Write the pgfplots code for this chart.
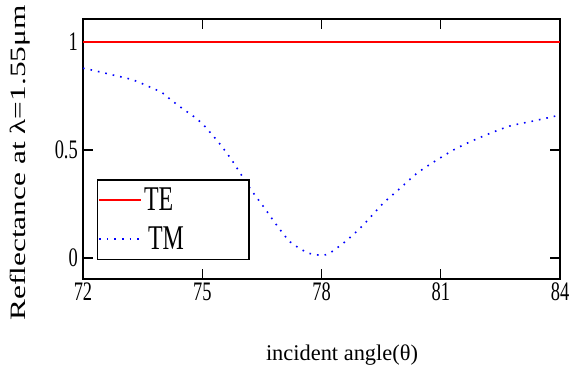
\documentclass[border=0pt]{standalone}
\usepackage{fontspec}
\setmainfont{Liberation Serif}
\usepackage{graphicx}
\usepackage{pgfplots}
\pgfplotsset{compat=1.18}
\newcommand{\vs}[1]{\scalebox{1}[1.45]{#1}}
\begin{document}
\begin{tikzpicture}
\useasboundingbox (-83bp,-88bp) rectangle (493bp,279bp);
\begin{axis}[
  at={(0,0)}, anchor=south west,
  width=477bp, height=260bp, scale only axis,
  xmin=72, xmax=84, ymin=-0.097, ymax=1.106,
  xtick={72,75,78,81,84}, ytick={0,0.5,1},
  xticklabels={\vs{72},\vs{75},\vs{78},\vs{81},\vs{84}},
  yticklabels={\vs{0},\vs{0.5},\vs{1}},
  tick align=inside, major tick length=10bp,
  axis line style={line width=1.4bp},
  every tick/.style={black, line width=1.4bp},
  tick label style={font=\fontsize{18.5}{20}\selectfont},
  xticklabel style={inner ysep=4bp},
  yticklabel style={inner xsep=5bp},
  every axis y label/.style={at={(axis description cs:-0.132,0.446)}, rotate=90, anchor=center},
  every axis x label/.style={at={(axis description cs:0.543,-0.292)}, anchor=center},
  ylabel={Reflectance at λ=1.55μm},
  ylabel style={font=\fontsize{22}{24}\selectfont, xscale=1.43},
  xlabel={incident angle(θ)},
  xlabel style={font=\fontsize{22.5}{24}\selectfont},
  legend image code/.code={\draw[#1] (0bp,0bp) -- (42bp,0bp);},
  legend cell align=left,
  legend style={at={(0.029,0.073)}, anchor=south west, draw=black, line width=1.3bp,
    fill=white, font=\fontsize{24}{26}\selectfont, inner xsep=1bp, inner ysep=6bp,
    row sep=11bp,
    /tikz/every even column/.append style={text width=102bp}},
]
\addplot[red, line width=1.5bp] coordinates {(72,1) (84,1)};
\addlegendentry{\vs{TE}}
\addplot[blue, line width=1.6bp, dash pattern=on 1.6bp off 6bp, smooth, tension=0.4] coordinates {
(72,0.878) (72.22,0.870) (72.75,0.847) (73.26,0.824) (73.76,0.785) (73.99,0.765)
(74.19,0.735) (74.44,0.70) (74.82,0.65) (75.03,0.616) (75.40,0.538) (75.74,0.454)
(76.2,0.323) (76.54,0.238) (76.87,0.153) (77.21,0.075) (77.63,0.026) (77.92,0.014)
(78.17,0.019) (78.59,0.075) (79.01,0.145) (79.55,0.253) (79.98,0.323) (80.40,0.392)
(80.81,0.443) (81.32,0.50) (81.74,0.538) (82.24,0.577) (82.74,0.611) (83.25,0.631)
(83.75,0.651) (84,0.662)};
\addlegendentry{\hspace{4bp}\vs{TM}}
\end{axis}
\end{tikzpicture}
\end{document}
